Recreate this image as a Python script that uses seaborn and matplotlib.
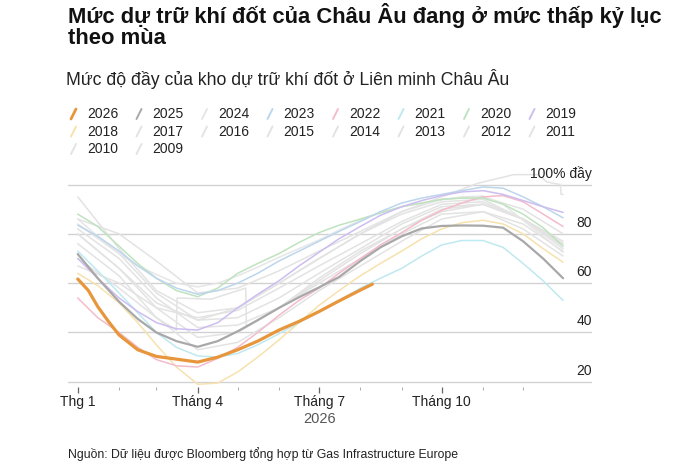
import numpy as np
import pandas as pd
import seaborn as sns
import matplotlib.pyplot as plt
from matplotlib.lines import Line2D

# Day-of-year positions used for the readings
half_month = [0, 15, 31, 45, 59, 74, 90, 105, 120, 135, 151, 166, 181, 196,
              212, 227, 243, 258, 273, 288, 304, 319, 334, 349, 364]
month = [0, 31, 59, 90, 120, 151, 181, 212, 243, 273, 304, 334, 364]

# Storage fill level (%)
days_2026 = [0, 8, 15, 23, 31, 45, 59, 74, 90, 105, 120, 135, 151, 166, 181, 196, 212, 221]
fill_2026 = [61.7, 57, 50.5, 44.5, 39, 33, 30.3, 29.2, 28, 30, 33, 36.5, 41, 44.5, 48.5, 52.8, 57.2, 59.6]
fill_2025 = [71.8, 62, 52.5, 45.5, 40, 36.5, 34.2, 36.5, 40.5, 45, 50, 54.3, 58.3, 62.5, 69,
             74.5, 79, 82.2, 83.2, 83.4, 83.3, 82.5, 77, 70, 62]
fill_2024 = [86, 79, 72, 67, 63.5, 60, 58.5, 60, 63, 66.5, 70.5, 74, 77.5, 81.5, 85.5,
             88.5, 91, 92.5, 93.8, 95, 95.3, 92, 85.5, 79, 72.5]
fill_2023 = [83.5, 79, 73, 67, 62, 58, 55.5, 57, 60, 64, 69, 73, 77, 81, 85,
             89, 92.5, 94.5, 96, 97.5, 99, 98.5, 95, 91, 86.5]
fill_2022 = [54, 46, 40, 34, 29, 26.5, 26, 29.5, 34, 40, 47, 53, 58, 64, 70,
             75.5, 80.5, 85.5, 89.5, 92.5, 95, 95.5, 93, 88, 83]
fill_2021 = [73, 65, 56, 48, 40, 34, 30.5, 30, 31.5, 35, 39.5, 44, 48.5, 53, 58,
             62, 66, 71, 75.5, 77.3, 77.3, 74.5, 68, 61, 53]
fill_2020 = [88, 83, 75, 68, 62, 57, 54.5, 58, 64, 68, 72, 76.5, 80.5, 83.5, 86,
             88.5, 91, 92.5, 94, 94.5, 94.5, 92, 88, 82.5, 75]
fill_2019 = [70, 62, 54, 48.5, 44, 41.5, 41, 44, 50, 55.5, 61, 67, 72.5, 78, 83,
             87.5, 91, 93.5, 95.5, 97, 97.5, 96, 93.5, 91, 88.7]
fill_2018 = [64, 59, 52, 44, 35, 26, 19, 19.5, 24, 30, 37, 44, 51, 57, 63,
             68, 73, 78, 82, 84.5, 85.5, 84, 80, 74, 68.5]
fill_2017 = [76, 63, 46, 33, 36, 46, 57, 67, 77, 86, 89, 84, 73]
fill_2016 = [80, 66, 50, 38, 40, 50, 61, 72, 82, 90, 92, 86, 76]
fill_2015 = [84, 72, 56, 45, 46, 54, 64, 74, 84, 91, 92, 86, 77]
fill_2014 = [86, 80, 69, 56, 58, 65, 73, 81, 89, 94, 95, 90, 80]
fill_2013 = [82, 70, 54, 42, 43, 50, 60, 70, 80, 88, 89, 82, 71]
fill_2012 = [67, 60, 50, 46, 49, 58, 67, 76, 85, 92, 93, 86, 74]
fill_2011 = [95, 74, 57, 48, 50, 60, 70, 80, 88, 93, 94, 86, 76]
days_2010 = [0, 31, 59, 74, 74.5, 100, 126, 126.5, 151, 181, 212, 243, 273, 304, 334, 364]
fill_2010 = [70, 58, 46, 41, 54, 53.5, 58, 42.5, 50, 62, 73, 82, 89, 92, 86, 75]
days_2009 = [0, 31, 59, 90, 120, 151, 181, 212, 243, 273, 300, 327, 345, 352, 362, 362.5, 364]
fill_2009 = [80, 66, 52, 45, 50, 60, 70, 80, 89, 95, 100.5, 104, 104, 101, 100, 96, 96]

years = [2026, 2025, 2024, 2023, 2022, 2021, 2020, 2019, 2018,
         2017, 2016, 2015, 2014, 2013, 2012, 2011, 2010, 2009]
series = {
    2026: (days_2026, fill_2026), 2025: (half_month, fill_2025), 2024: (half_month, fill_2024),
    2023: (half_month, fill_2023), 2022: (half_month, fill_2022), 2021: (half_month, fill_2021),
    2020: (half_month, fill_2020), 2019: (half_month, fill_2019), 2018: (half_month, fill_2018),
    2017: (month, fill_2017), 2016: (month, fill_2016), 2015: (month, fill_2015),
    2014: (month, fill_2014), 2013: (month, fill_2013), 2012: (month, fill_2012),
    2011: (month, fill_2011), 2010: (days_2010, fill_2010), 2009: (days_2009, fill_2009),
}

old_gray = "#e3e3e3"
colors = {2026: "#e8963c", 2025: "#a8a8a8", 2024: "#e6e6e6", 2023: "#bcd6ec",
          2022: "#f3bccb", 2021: "#bfe9f0", 2020: "#bfe3bf", 2019: "#cdbdf0",
          2018: "#f7e2ae"}
for y in years:
    colors.setdefault(y, old_gray)

sns.set_theme(style="white")
plt.rcParams["font.family"] = ["Liberation Sans", "DejaVu Sans"]

fig = plt.figure(figsize=(7, 4.76), dpi=100)
ax = fig.add_axes([68 / 700, 1 - 387 / 476, 524 / 700, 220 / 476])

for v in [20, 40, 60, 80, 100]:
    ax.axhline(v, color="#d2d2d2", lw=1, zorder=0)

# draw oldest first so recent years sit on top
draw_order = list(range(2009, 2018)) + [2024, 2018, 2021, 2022, 2020, 2023, 2019, 2025, 2026]
for y in draw_order:
    d, f = series[y]
    df = pd.DataFrame({"day": d, "fill": f})
    lw = 2.3 if y == 2026 else (1.6 if y == 2025 else 1.1)
    sns.lineplot(data=df, x="day", y="fill", color=colors[y], lw=lw, ax=ax,
                 estimator=None, sort=False, legend=False, zorder=3 if y >= 2025 else 2)

ax.set_xlim(-7.3, 385.7)
ax.set_ylim(17.9, 107.1)
for s in ax.spines.values():
    s.set_visible(False)
ax.set_xlabel("")
ax.set_ylabel("")
ax.set_yticks([])

ax.set_xticks([0, 90, 181, 273])
ax.set_xticklabels(["Thg 1", "Tháng 4", "Tháng 7", "Tháng 10"], fontsize=10, color="#222222")
ax.set_xticks([31, 59, 120, 151, 212, 243, 304, 334], minor=True)
ax.tick_params(axis="x", which="major", direction="out", length=4, width=0.9,
               color="#666666", pad=2, bottom=True)
ax.tick_params(axis="x", which="minor", direction="out", length=2, width=0.7,
               color="#aaaaaa", bottom=True)

ytr = ax.get_yaxis_transform()
for v, lab in zip([20, 40, 60, 80, 100], ["20", "40", "60", "80", "100% đầy"]):
    ax.annotate(lab, xy=(1, v), xycoords=ytr, xytext=(0, 8), textcoords="offset points",
                ha="right", va="center", fontsize=10, color="#222222")

ax.text(181, -0.145, "2026", transform=ax.get_xaxis_transform(), ha="center", va="center",
        fontsize=10.5, color="#555555")

fig.text(68 / 700, 1 - 16 / 476, "Mức dự trữ khí đốt của Châu Âu đang ở mức thấp kỷ lục",
         fontsize=15.8, fontweight="bold", color="#111111", va="center")
fig.text(68 / 700, 1 - 39 / 476, "theo mùa",
         fontsize=15.8, fontweight="bold", color="#111111", va="center")
fig.text(66 / 700, 1 - 79 / 476, "Mức độ đầy của kho dự trữ khí đốt ở Liên minh Châu Âu",
         fontsize=12.7, color="#222222", va="center")

# legend: short slashes with year labels, 8 per row
for i, y in enumerate(years):
    row, col = divmod(i, 8)
    x0 = 71 + col * 65.5
    yc = 114 + row * 17.5
    fig.add_artist(Line2D([x0 / 700, (x0 + 5) / 700], [1 - (yc + 5) / 476, 1 - (yc - 5) / 476],
                          transform=fig.transFigure, color=colors[y],
                          lw=2 if y == 2026 else 1.4))
    fig.text((x0 + 16) / 700, 1 - yc / 476, str(y), fontsize=10, color="#222222", va="center")

fig.text(68 / 700, 1 - 454 / 476,
         "Nguồn: Dữ liệu được Bloomberg tổng hợp từ Gas Infrastructure Europe",
         fontsize=8.85, color="#222222", va="center")

fig.savefig("out.png", dpi=100, facecolor="white")
